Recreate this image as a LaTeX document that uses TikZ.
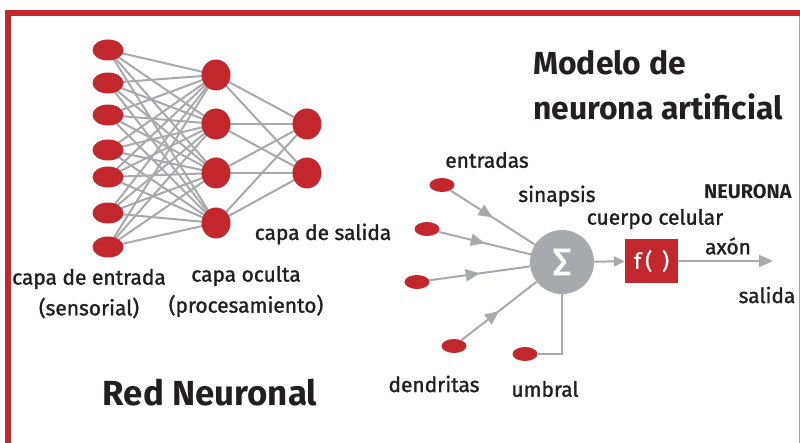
\documentclass[tikz,border=0pt]{standalone}
\usepackage{fontspec}
\setmainfont{Fira Sans}
\newfontfamily\lblfont{Fira Sans}[FakeBold=1.4]
\newfontfamily\sigfont{Fira Sans}[FakeBold=2]
\newfontfamily\boxfont{Fira Sans}[LetterSpace=18,FakeBold=1.2]
\usetikzlibrary{shapes.geometric,arrows.meta,decorations.markings}
\definecolor{nred}{HTML}{C1272D}
\definecolor{ngray}{HTML}{A7A9AC}
\definecolor{ntext}{HTML}{231F20}
\definecolor{npink}{HTML}{D98A98}
\begin{document}
\begin{tikzpicture}[x=1bp,y=-1bp,
 lbl/.style={font=\lblfont\fontsize{21}{23}\selectfont, text=ntext, inner sep=0pt},
 ttl/.style={font=\bfseries\fontsize{32}{36}\selectfont, text=ntext, inner sep=0pt},
 inp/.style={ellipse, fill=nred, minimum width=31bp, minimum height=21bp, inner sep=0pt},
 hid/.style={ellipse, fill=nred, minimum width=29bp, minimum height=31bp, inner sep=0pt},
 din/.style={ellipse, fill=nred, minimum width=25bp, minimum height=14bp, inner sep=0pt},
 edge/.style={color=ngray, line width=2bp},
 midarrow/.style={decoration={markings, mark=at position 0.5 with {\arrow{Triangle[length=14bp,width=12bp]}}}, postaction={decorate}},
]
\useasboundingbox (0,0) rectangle (800,443);
% frame
\fill[nred] (5,10) rectangle (800,16);
\fill[nred] (5,10) rectangle (11,443);
\fill[npink] (798.5,16) rectangle (800,443);

% left network nodes (coordinates for edges)
\foreach \i/\y in {1/50,2/83,3/115,4/150,5/177,6/213,7/247} {\coordinate (i\i) at (108,\y);}
\foreach \j/\y in {1/75,2/124,3/173,4/223} {\coordinate (h\j) at (216,\y);}
\foreach \k/\y in {1/124,2/173} {\coordinate (o\k) at (307,\y);}
\foreach \i in {1,...,7} {\foreach \j in {1,...,4} {\draw[edge] (i\i) -- (h\j);}}
\foreach \j in {1,...,4} {\foreach \k in {1,2} {\draw[edge] (h\j) -- (o\k);}}
% nodes on top
\foreach \i in {1,...,7} {\node[inp] (ni\i) at (i\i) {};}
\foreach \j in {1,...,4} {\node[hid] (nh\j) at (h\j) {};}
\foreach \k in {1,2} {\node[hid] (no\k) at (o\k) {};}

% left labels
\node[lbl] (lsal) at (323,234) {capa de salida};
\node[lbl] (lent) at (89,279) {capa de entrada};
\node[lbl] (lsen) at (89,308) {(sensorial)};
\node[lbl] (locu) at (246,276) {capa oculta};
\node[lbl] (lpro) at (246,306) {(procesamiento)};
\node[ttl, font=\bfseries\fontsize{35}{38}\selectfont] (lred) at (210,393) {Red Neuronal};

% titles right
\node[ttl, anchor=base west] (tmod) at (533,75) {Modelo de};
\node[ttl, anchor=base west] (tneu) at (533,120) {neurona artificial};

% neuron model
\node[din] (e1) at (442,185) {};
\node[din] (e2) at (427,229) {};
\node[din] (e3) at (417,282) {};
\node[din] (e4) at (454,346) {};
\node[din] (eu) at (525,354) {};
\node[circle, fill=ngray, minimum size=64bp, inner sep=0pt] (sig) at (562,262) {};
\node[text=white, inner sep=0pt, font=\sigfont\fontsize{38}{42}\selectfont] (sigtxt) at (sig.center) {Σ};
\node[fill=nred, minimum width=53bp, minimum height=44bp, inner sep=0pt, text=white, font=\boxfont\fontsize{22}{24}\selectfont] (fbox) at (651.5,261) {f( )};
\coordinate (outend) at (773,261);

\foreach \e in {e1,e2,e3,e4} {\draw[edge,midarrow] (\e) -- (sig);}
\draw[edge] (eu.east) -| (sig.south);
\draw[edge,-{Triangle[length=11bp,width=10bp]}] (sig) -- (fbox);
\draw[edge,-{Triangle[length=14bp,width=12bp]}] (fbox) -- (outend);

% right labels
\node[lbl] (rent) at (487,160) {entradas};
\node[lbl] (rsin) at (557,196) {sinapsis};
\node[lbl] (rcue) at (655,219) {cuerpo celular};
\node[lbl, font=\bfseries\fontsize{20}{24}\selectfont, anchor=west] (rneu) at (704,192) {NEURONA};
\node[lbl] (raxo) at (728,246) {axón};
\node[lbl] (rsal) at (767,295) {salida};
\node[lbl] (rden) at (434,384) {dendritas};
\node[lbl] (rumb) at (545,389) {umbral};
\end{tikzpicture}
\end{document}
